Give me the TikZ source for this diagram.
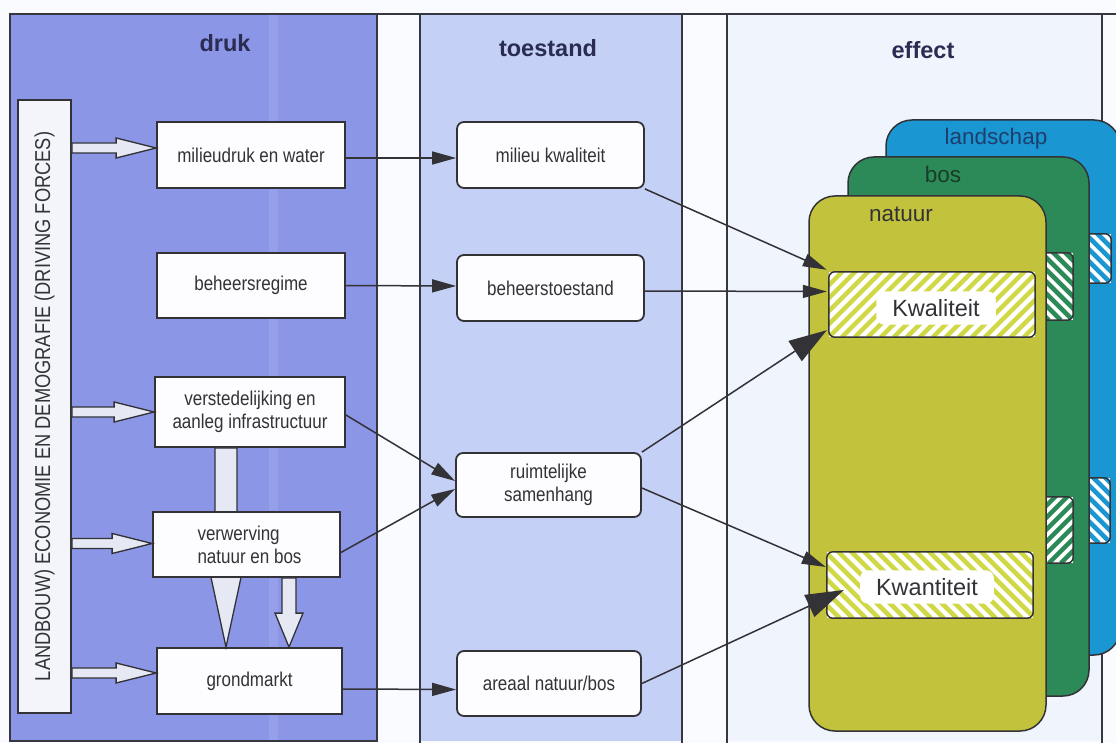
\documentclass[tikz,border=0pt]{standalone}
\usepackage{fontspec}
\setmainfont{Liberation Sans}
\newfontfamily\narrowfont{Liberation Sans}[FakeStretch=0.85]
\usetikzlibrary{arrows.meta,calc}

\definecolor{gapbg}{RGB}{250,251,254}
\definecolor{drukfill}{RGB}{140,150,230}
\definecolor{drukstreak}{RGB}{150,160,234}
\definecolor{toefill}{RGB}{197,208,246}
\definecolor{efffill}{RGB}{240,244,252}
\definecolor{frame}{RGB}{55,55,65}
\definecolor{boxline}{RGB}{50,50,55}
\definecolor{boxfill}{RGB}{253,253,255}
\definecolor{barfill}{RGB}{244,245,250}
\definecolor{hollowfill}{RGB}{230,232,244}
\definecolor{linec}{RGB}{50,50,55}
\definecolor{txt}{RGB}{50,50,55}
\definecolor{headtxt}{RGB}{42,44,82}
\definecolor{landcol}{RGB}{26,150,210}
\definecolor{boscol}{RGB}{44,137,88}
\definecolor{natcol}{RGB}{195,194,60}
\definecolor{natstripe}{RGB}{208,216,70}
\definecolor{landtxt}{RGB}{30,62,110}
\definecolor{bostxt}{RGB}{25,60,40}

\newcommand\bodyfont{\narrowfont\fontsize{20}{23}\selectfont}
\newcommand\headfont{\fontsize{23.5}{26}\selectfont\bfseries}
\newcommand\cardfont{\fontsize{22.5}{26}\selectfont}
\newcommand\effont{\fontsize{23.5}{26}\selectfont}

% horizontal outlined arrow from #1 to #2 (same height)
\newcommand\hollowright[2]{%
  \filldraw[hollow] let \p1=#1, \p2=#2 in
    (\x1,{\y1-5pt}) -- ({\x2-40pt},{\y1-5pt}) -- ({\x2-40pt},{\y1-10pt}) -- (\x2,\y1)
    -- ({\x2-40pt},{\y1+10pt}) -- ({\x2-40pt},{\y1+5pt}) -- (\x1,{\y1+5pt}) -- cycle;}

% downward outlined arrow: start, tip, shaft half width, head half width, head length
\newcommand\hollowdown[5]{%
  \filldraw[hollow] let \p1=#1, \p2=#2 in
    ({\x1-#3},\y1) -- ({\x1+#3},\y1) -- ({\x1+#3},{\y2+#5}) -- ({\x1+#4},{\y2+#5})
    -- (\x1,\y2) -- ({\x1-#4},{\y2+#5}) -- ({\x1-#3},{\y2+#5}) -- cycle;}

% diagonal stripes inside a node: node, colour, direction (1 = /, -1 = \), spacing
\newcommand\hatch[4]{%
  \begin{scope}
    \clip[rounded corners=6pt] (#1.south west) rectangle (#1.north east);
    \foreach \k in {-10,...,26}
      \draw[line width=4.5pt, #2] ([xshift=\k*#4]#1.south west) -- ++({100*#3},-100);
  \end{scope}
  \draw[boxline, line width=1.5pt, rounded corners=6pt] (#1.south west) rectangle (#1.north east);}

\begin{document}
\begin{tikzpicture}[x=1pt, y=-1pt,
  drukbox/.style={draw=boxline, line width=1.8pt, fill=boxfill, font=\bodyfont,
    text=txt, align=center, inner sep=2pt},
  toebox/.style={drukbox, rounded corners=7pt},
  conn/.style={draw=linec, line width=1.5pt, -{Triangle[length=24pt,width=13pt]}},
  bigconn/.style={conn, -{Triangle[length=38pt,width=24pt]}},
  hollow/.style={fill=hollowfill, draw=boxline, line width=1.3pt, line join=miter},
  card/.style={draw=boxline, line width=1.5pt, rounded corners=26pt, inner sep=0pt},
  cardlabel/.style={font=\cardfont, anchor=base},
  tab/.style={fill=white, inner sep=0pt},
  effbox/.style={fill=white, inner sep=0pt},
  head/.style={font=\headfont, text=headtxt, anchor=base}]

\useasboundingbox (0,0) rectangle (1116,743);
\fill[gapbg] (0,0) rectangle (1116,743);

% three columns
\fill[drukfill] (10,14) rectangle (377,741);
\fill[drukstreak] (269,15) rectangle (278,740);
\draw[frame, line width=2.5pt] (10,14) rectangle (377,741);
\fill[toefill] (420,14) rectangle (682,741);
\draw[frame, line width=2pt] (420,14) -- (420,743) (682,14) -- (682,743);
\fill[efffill] (727,14) rectangle (1102,741);
\draw[frame, line width=1.5pt] (727,14) -- (727,743) (1102,14) -- (1102,743);
\draw[frame, line width=2.5pt] (10,14) -- (1116,14);

\node[head] (hdruk) at (225,52) {druk};
\node[head] (htoe) at (548,57) {toestand};
\node[head] (heff) at (923,59) {effect};

% driving forces bar
\node[draw=boxline, line width=1.8pt, fill=barfill, minimum width=53pt,
  minimum height=613pt, inner sep=0pt] (bar) at (44.5,406.5) {};
\node[rotate=90, font=\narrowfont\fontsize{21.5}{24}\selectfont, text=txt] (barlbl)
  at (bar.center) {LANDBOUW) ECONOMIE EN DEMOGRAFIE (DRIVING FORCES)};

% pressure boxes
\node[drukbox, minimum width=188pt, minimum height=66pt] (mdw) at (251,155) {milieudruk en water};
\node[drukbox, minimum width=188pt, minimum height=65pt] (bhr) at (251,285.5) {beheersregime};
\node[drukbox, minimum width=190pt, minimum height=70pt] (vst) at (250,412)
  {verstedelijking en\\aanleg infrastructuur};
\node[drukbox, minimum width=185pt, minimum height=66pt] (grm) at (249.5,681) {grondmarkt};

\coordinate (d1) at ([xshift=-24pt]vst.south);
\hollowdown{(d1)}{(d1 |- grm.north)}{11pt}{15.5pt}{72pt}

\node[drukbox, minimum width=187pt, minimum height=65pt, align=left] (vwv) at (246.5,544.5)
  {\hspace*{6pt}verwerving\\\hspace*{6pt}natuur en bos};

\coordinate (d2) at ([xshift=42.5pt]vwv.south);
\hollowdown{(d2)}{(d2 |- grm.north)}{7pt}{14pt}{34pt}

% arrows from the bar
\coordinate (h1) at ([yshift=7pt]mdw.west);
\coordinate (h2) at (vst.west);
\coordinate (h3) at ([yshift=1pt]vwv.west);
\coordinate (h4) at ([yshift=8pt]grm.west);
\hollowright{(bar.east |- h1)}{(h1)}
\hollowright{(bar.east |- h2)}{(h2)}
\hollowright{(bar.east |- h3)}{(h3)}
\hollowright{(bar.east |- h4)}{(h4)}

% state boxes
\node[toebox, minimum width=187pt, minimum height=66pt] (mk) at (550.5,155) {milieu kwaliteit};
\node[toebox, minimum width=187pt, minimum height=66pt] (bt) at (550.5,288) {beheerstoestand};
\node[toebox, minimum width=185pt, minimum height=64pt] (rs) at (548.5,485) {ruimtelijke\\samenhang};
\node[toebox, minimum width=184pt, minimum height=65pt] (an) at (549,683.5) {areaal natuur/bos};

% effect cards, back to front
\node[card, fill=landcol, minimum width=234pt, minimum height=535pt] (land) at (1003,387.5) {};
\node[cardlabel, text=landtxt] (landlbl) at (996,145) {landschap};
\node[tab, minimum width=36pt, minimum height=49pt] (tabL1) at (1093,258.5) {};
\hatch{tabL1}{landcol}{-1}{12pt}
\node[tab, minimum width=35pt, minimum height=65pt] (tabL2) at (1092.5,510.5) {};
\hatch{tabL2}{landcol}{-1}{12pt}

\node[card, fill=boscol, minimum width=241pt, minimum height=539pt] (bos) at (968.5,426.5) {};
\node[cardlabel, text=bostxt] (boslbl) at (943,183) {bos};
\node[tab, minimum width=48pt, minimum height=67pt] (tabB1) at (1049,286.5) {};
\hatch{tabB1}{boscol}{-1}{12pt}
\node[tab, minimum width=48pt, minimum height=66pt] (tabB2) at (1049,530) {};
\hatch{tabB2}{boscol}{1}{12pt}

\node[card, fill=natcol, minimum width=237pt, minimum height=535pt] (nat) at (927.5,463.5) {};
\node[cardlabel, text=txt] (natlbl) at (901,222) {natuur};

\node[effbox, minimum width=206pt, minimum height=65pt] (kwal) at (932,304.5) {};
\hatch{kwal}{natstripe}{1}{13pt}
\node[fill=white, inner xsep=16pt, inner ysep=8pt, rounded corners=8pt, font=\effont, text=txt] (kwaltxt)
  at (936,308) {Kwaliteit};
\node[effbox, minimum width=206pt, minimum height=66pt] (kwan) at (930,585) {};
\hatch{kwan}{natstripe}{-1}{13pt}
\node[fill=white, inner xsep=16pt, inner ysep=8pt, rounded corners=8pt, font=\effont, text=txt] (kwantxt)
  at (927,587) {Kwantiteit};

% connectors pressure -> state
\draw[conn] ([yshift=-3pt]mdw.east) -- ([yshift=-3pt]mk.west);
\draw[conn] (bhr.east) -- ([yshift=2pt]bt.west);
\draw[conn] ([yshift=-3pt]vst.east) -- ([yshift=4pt]rs.west);
\draw[conn] ([yshift=-8pt]vwv.east) -- ([yshift=-4pt]rs.west);
\draw[conn] ([yshift=-8pt]grm.east) -- ([yshift=-6pt]an.west);

% connectors state -> effect
\coordinate (k1) at ([xshift=-2pt,yshift=2pt]kwal.north west);
\coordinate (k2) at ([xshift=-2pt,yshift=13pt]kwal.west);
\coordinate (k3) at ([xshift=-2pt,yshift=7pt]kwal.south west);
\coordinate (q1) at ([xshift=-1pt,yshift=18pt]kwan.west);
\coordinate (q2) at ([xshift=17pt,yshift=-5pt]kwan.west);
\draw[conn] (mk.south east) -- (k1);
\draw[conn] ([yshift=-3pt]bt.east) -- (k2);
\draw[bigconn] (rs.north east) -- (k3);
\draw[conn] ([yshift=-3pt]rs.east) -- (q1);
\draw[bigconn] (an.east) -- (q2);
\end{tikzpicture}
\end{document}
